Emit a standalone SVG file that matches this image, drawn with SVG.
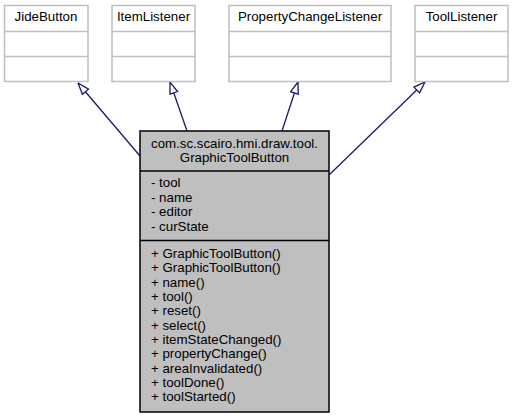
<svg xmlns="http://www.w3.org/2000/svg" width="513" height="419" viewBox="0 0 513 419">
<style>
text{font-family:"Liberation Sans",Arial,sans-serif;font-size:13.3px;fill:#000}
.c{text-anchor:middle}
.top rect{fill:#fff;stroke:#bfbfbf;stroke-width:1.5}
.top line{stroke:#bfbfbf;stroke-width:1.5}
.main rect{fill:#bfbfbf;stroke:#000;stroke-width:1.5}
.main line{stroke:#000;stroke-width:1.5}
.edge{stroke:#191970;stroke-width:1.3;fill:none;marker-end:url(#tri)}
</style>
<defs>
<marker id="tri" viewBox="0 0 13 10" refX="12.5" refY="5" markerWidth="13" markerHeight="10" markerUnits="userSpaceOnUse" orient="auto">
<path d="M1,1 L12.5,5 L1,9 Z" fill="#fff" stroke="#191970" stroke-width="1.3"/>
</marker>
</defs>
<rect width="513" height="419" fill="#fff"/>
<g id="connectors">
<line class="edge" x1="140" y1="156" x2="78" y2="83"/>
<line class="edge" x1="187" y1="131" x2="170" y2="82"/>
<line class="edge" x1="282" y1="131" x2="298" y2="82"/>
<line class="edge" x1="329" y1="175" x2="425" y2="82"/>
</g>
<g id="JideButton" class="top">
<rect x="4.5" y="5.5" width="83.5" height="76"/>
<line x1="4.5" y1="31.5" x2="88" y2="31.5"/>
<line x1="4.5" y1="56.5" x2="88" y2="56.5"/>
<text class="c" x="46" y="21">JideButton</text>
</g>
<g id="ItemListener" class="top">
<rect x="112" y="5.5" width="83" height="76"/>
<line x1="112" y1="31.5" x2="195" y2="31.5"/>
<line x1="112" y1="56.5" x2="195" y2="56.5"/>
<text class="c" x="153.5" y="21">ItemListener</text>
</g>
<g id="PropertyChangeListener" class="top">
<rect x="229" y="5.5" width="162" height="76"/>
<line x1="229" y1="31.5" x2="391" y2="31.5"/>
<line x1="229" y1="56.5" x2="391" y2="56.5"/>
<text class="c" x="310" y="21">PropertyChangeListener</text>
</g>
<g id="ToolListener" class="top">
<rect x="415" y="5.5" width="93" height="76"/>
<line x1="415" y1="31.5" x2="508" y2="31.5"/>
<line x1="415" y1="56.5" x2="508" y2="56.5"/>
<text class="c" x="461.5" y="21">ToolListener</text>
</g>
<g id="GraphicToolButton" class="main">
<rect x="140" y="131" width="189" height="281"/>
<line x1="140" y1="171" x2="329" y2="171"/>
<line x1="140" y1="240.5" x2="329" y2="240.5"/>
<text class="c" x="234.5" y="147.5">com.sc.scairo.hmi.draw.tool.</text>
<text class="c" x="234.5" y="162">GraphicToolButton</text>
<text x="151" y="187">- tool</text>
<text x="151" y="201.7">- name</text>
<text x="151" y="216.4">- editor</text>
<text x="151" y="231">- curState</text>
<text x="151" y="257.8">+ GraphicToolButton()</text>
<text x="151" y="272.1">+ GraphicToolButton()</text>
<text x="151" y="286.5">+ name()</text>
<text x="151" y="300.8">+ tool()</text>
<text x="151" y="315.2">+ reset()</text>
<text x="151" y="329.5">+ select()</text>
<text x="151" y="343.8">+ itemStateChanged()</text>
<text x="151" y="358.2">+ propertyChange()</text>
<text x="151" y="372.5">+ areaInvalidated()</text>
<text x="151" y="386.9">+ toolDone()</text>
<text x="151" y="401.2">+ toolStarted()</text>
</g>
</svg>
